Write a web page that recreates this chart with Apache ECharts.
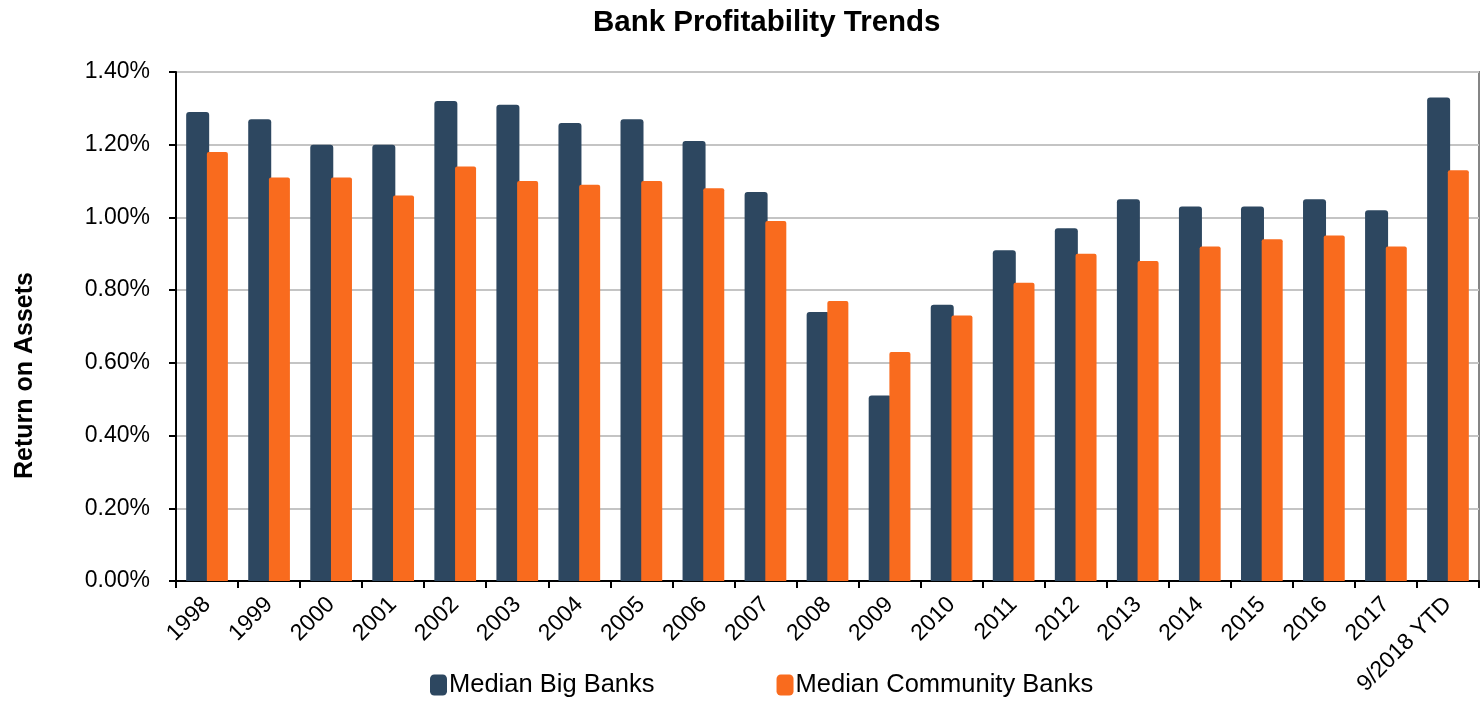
<!DOCTYPE html>
<html>
<head>
<meta charset="utf-8">
<title>Bank Profitability Trends</title>
<script src="https://cdn.jsdelivr.net/npm/echarts@6/dist/echarts.min.js"></script>
<style>
  html, body { margin: 0; padding: 0; background: #ffffff; }
  #chart { width: 1481px; height: 703px; }
</style>
</head>
<body>
<div id="chart"></div>
<script>
// Return on assets, in percent
const categories = ['1998', '1999', '2000', '2001', '2002', '2003', '2004', '2005', '2006', '2007',
  '2008', '2009', '2010', '2011', '2012', '2013', '2014', '2015', '2016', '2017', '9/2018 YTD'];
const bigBanks = [1.29, 1.27, 1.20, 1.20, 1.32, 1.31, 1.26, 1.27, 1.21, 1.07,
  0.74, 0.51, 0.76, 0.91, 0.97, 1.05, 1.03, 1.03, 1.05, 1.02, 1.33];
const communityBanks = [1.18, 1.11, 1.11, 1.06, 1.14, 1.10, 1.09, 1.10, 1.08, 0.99,
  0.77, 0.63, 0.73, 0.82, 0.90, 0.88, 0.92, 0.94, 0.95, 0.92, 1.13];
const seriesNames = ['Median Big Banks', 'Median Community Banks'];

const FONT = '"Liberation Sans", Arial, sans-serif';
const NAVY = '#2D4760';
const ORANGE = '#F96B1E';

const chart = echarts.init(document.getElementById('chart'), null, { renderer: 'canvas' });

chart.setOption({
  animation: false,
  backgroundColor: '#ffffff',
  title: {
    text: 'Bank Profitability Trends',
    left: 588,
    top: 3,
    textStyle: { fontFamily: FONT, fontSize: 29.5, fontWeight: 'bold', color: '#000' }
  },
  legend: {
    bottom: 0,
    left: 425,
    itemGap: 122,
    itemWidth: 17,
    itemHeight: 21,
    icon: 'roundRect',
    textStyle: { fontFamily: FONT, fontSize: 25.5, color: '#000', padding: [0, 0, 0, -3] },
    data: seriesNames
  },
  grid: {
    left: 176,
    right: 2,
    top: 72,
    bottom: 122,
    show: true,
    borderColor: '#858585',
    borderWidth: 2,
    containLabel: false,
    outerBoundsMode: 'none'
  },
  xAxis: {
    type: 'category',
    data: categories,
    axisLine: { lineStyle: { color: '#000', width: 2 } },
    axisTick: { show: true, length: 7, lineStyle: { color: '#000', width: 2 } },
    axisLabel: {
      rotate: 45,
      margin: 20,
      interval: 0,
      fontFamily: FONT,
      fontSize: 23,
      color: '#000'
    },
    splitLine: { show: false }
  },
  yAxis: {
    type: 'value',
    min: 0,
    max: 1.4,
    interval: 0.2,
    name: 'Return on Assets',
    nameLocation: 'middle',
    nameRotate: 90,
    nameGap: 138,
    nameTextStyle: {
      fontFamily: FONT, fontSize: 25, fontWeight: 'bold', color: '#000',
      padding: [0, 98, 0, 0]
    },
    axisLine: { show: true, lineStyle: { color: '#000', width: 2 } },
    axisTick: { show: true, length: 7, lineStyle: { color: '#000', width: 2 } },
    axisLabel: {
      margin: 26,
      fontFamily: FONT,
      fontSize: 23,
      color: '#000',
      formatter: v => v.toFixed(2) + '%'
    },
    splitLine: { show: true, lineStyle: { color: '#C4C4C4', width: 2 } }
  },
  series: [
    {
      name: seriesNames[0],
      type: 'bar',
      data: bigBanks,
      barWidth: 23,
      barGap: '-10%',
      itemStyle: { color: NAVY, borderRadius: [3, 3, 0, 0] }
    },
    {
      name: seriesNames[1],
      type: 'bar',
      data: communityBanks,
      barWidth: 21,
      itemStyle: { color: ORANGE, borderRadius: [2, 2, 0, 0] }
    }
  ]
});
</script>
</body>
</html>
